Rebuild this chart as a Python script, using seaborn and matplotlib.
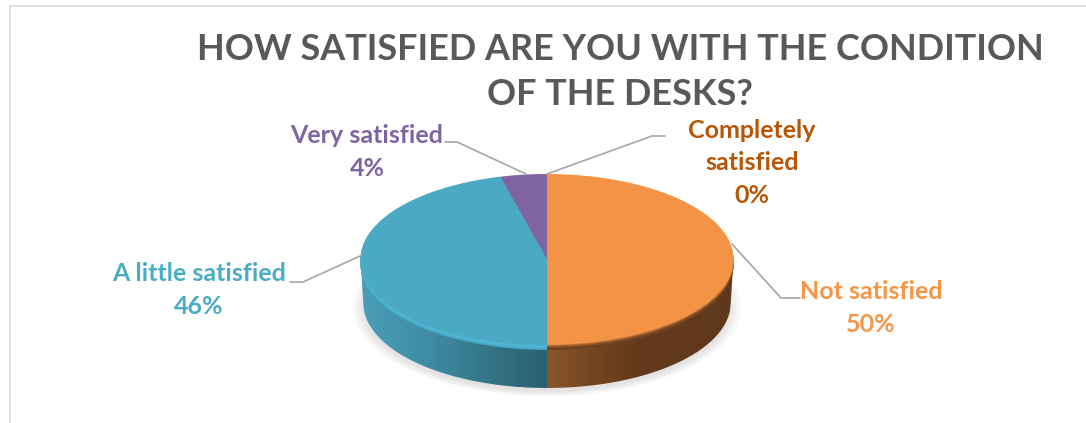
import numpy as np
import matplotlib
matplotlib.use("Agg")
import matplotlib.pyplot as plt
from matplotlib.patches import PathPatch
from matplotlib.path import Path
from matplotlib.colors import LinearSegmentedColormap, to_rgb
import seaborn as sns

categories = ["Not satisfied", "A little satisfied", "Very satisfied", "Completely\nsatisfied"]
shares = [50, 46, 4, 0]
share_labels = ["50%", "46%", "4%", "0%"]
title_text = "HOW SATISFIED ARE YOU WITH THE CONDITION\nOF THE DESKS?"

face_colors = ["#F39345", "#4BA9C4", "#8064A2", "#B65708"]
label_colors = ["#F79646", "#4BACC6", "#8064A2", "#B65708"]

W, H = 1086, 423
sns.set_theme(style="white")
plt.rcParams["font.family"] = ["Lato", "DejaVu Sans"]

fig = plt.figure(figsize=(W / 100, H / 100), dpi=100, facecolor="white")

# Full-figure layer in pixel units for the frame, text and leader lines
page = fig.add_axes([0, 0, 1, 1], zorder=3)
page.set_xlim(0, W)
page.set_ylim(H, 0)
page.axis("off")
page.patch.set_alpha(0)
page.plot([9.5, 9.5, W], [H, 6.5, 6.5], color="#D9D9D9", lw=1.2)

# Pie axes: the unit circle is stretched onto the tilted ellipse of the top face
cx, cy, rx, ry = 547, 259, 186.5, 85
bx0, bx1, by0, by1 = 330, 764, 150, 415
pie_ax = fig.add_axes([bx0 / W, 1 - by1 / H, (bx1 - bx0) / W, (by1 - by0) / H], zorder=2)
pie_ax.set_facecolor("none")
depth = (388 - (cy + ry)) / ry
bevel = 6 / ry
limits_x = ((bx0 - cx) / rx, (bx1 - cx) / rx)
limits_y = ((cy - by1) / ry, (cy - by0) / ry)


def blend(a, b, t):
    a, b = np.array(to_rgb(a)), np.array(to_rgb(b))
    return tuple(a + (b - a) * t)


def wall_path(x0, x1, drop, taper=0.985):
    xs = np.linspace(x0, x1, 240)
    lower = -np.sqrt(np.clip(1 - xs ** 2, 0, 1))
    vx = np.r_[xs * taper, xs[::-1], xs[0] * taper]
    vy = np.r_[lower - drop, lower[::-1], lower[0] - drop]
    return Path(np.c_[vx, vy])


# Soft drop shadow under the disc
sx0, sx1, sy0, sy1 = -1.2, 1.2, limits_y[0], 0.6
gx, gy = np.meshgrid(np.linspace(sx0, sx1, 400), np.linspace(sy0, sy1, 400))
dist = np.sqrt(gx ** 2 + ((gy + depth + 0.06)) ** 2)
alpha = np.clip((1.05 - dist) / 0.07, 0, 1) * 0.2
shadow = np.zeros(gx.shape + (4,))
shadow[..., :3] = 0.45
shadow[..., 3] = alpha
pie_ax.imshow(shadow, extent=(sx0, sx1, sy0, sy1), origin="lower", aspect="auto", zorder=0)

# Side wall with a horizontal gradient for each half
blue_wall = LinearSegmentedColormap.from_list("bw", ["#4A9DB8", "#3F8EA8", "#357688", "#2A6072"])
brown_wall = LinearSegmentedColormap.from_list("ow", ["#88562A", "#744520", "#62391B", "#62391B", "#5F381B"])
for x0, x1, cmap in [(-1, 0, blue_wall), (0, 1, brown_wall)]:
    ramp = np.linspace(0, 1, 256).reshape(1, -1)
    img = pie_ax.imshow(ramp, cmap=cmap, extent=(x0, x1, -1 - depth - 0.02, 0.02), aspect="auto", zorder=1)
    img.set_clip_path(PathPatch(wall_path(x0, x1, depth), transform=pie_ax.transData))

# Rounded rim stepped from wall tone to face tone
rim_steps = 8
for i in range(rim_steps):
    t = i / (rim_steps - 1)
    offset = bevel * (1 - i / rim_steps)
    blue_rim = blend("#43A3C1", "#50B7D6", min(1, t * 2)) if t < 0.6 else blend("#50B7D6", face_colors[1], (t - 0.6) / 0.4)
    cols = [blend("#6A4020", face_colors[0], t ** 2.2), blue_rim, face_colors[2], face_colors[3]]
    pie_ax.pie(shares, colors=cols, startangle=90, counterclock=False, radius=1,
               center=(0, -offset), wedgeprops=dict(lw=0, zorder=2 + i * 0.01), frame=False)

# Top face
pie_ax.pie(shares, colors=face_colors, startangle=90, counterclock=False, radius=1,
           center=(0, 0), wedgeprops=dict(lw=0, zorder=3), frame=False)
pie_ax.set_aspect("auto")
pie_ax.set_xlim(*limits_x)
pie_ax.set_ylim(*limits_y)
pie_ax.axis("off")

# Title
page.text(620, 72, title_text, ha="center", va="center", fontsize=25.9, fontweight="bold",
          color="#595959", linespacing=1.47)

# Data labels: category above, share below
label_xy = [(871, 308), (199, 290), (367, 152), (752, 163)]
for name, share, col, (lx, ly) in zip(categories, share_labels, label_colors, label_xy):
    page.text(lx, ly, f"{name}\n{share}", ha="center", va="center", fontsize=18,
              fontweight="bold", color=col, linespacing=1.48)

# Leader lines
leaders = [([732, 781, 800], [244, 298, 298]),
           ([360, 303, 290], [256, 282, 282]),
           ([526, 457, 445], [174, 142, 142]),
           ([547, 652, 665], [174, 136, 136])]
for xs, ys in leaders:
    page.plot(xs, ys, color="#A6A6A6", lw=1.2)

fig.savefig("out.png", dpi=100)
